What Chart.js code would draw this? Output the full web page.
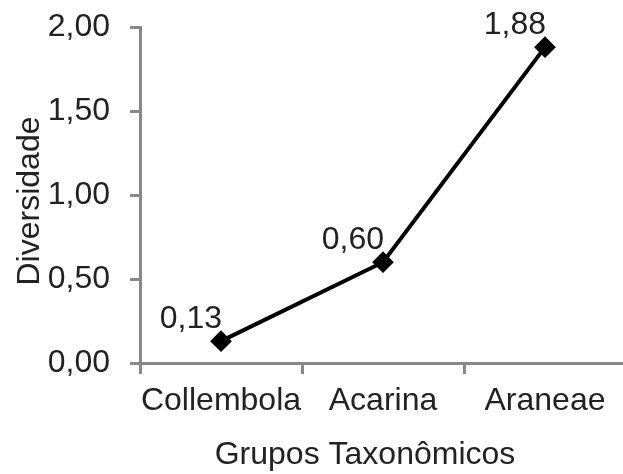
<!DOCTYPE html>
<html>
<head>
<meta charset="utf-8">
<script src="https://cdn.jsdelivr.net/npm/chart.js@4/dist/chart.umd.min.js"></script>
<style>
  html, body { margin: 0; padding: 0; background: #fff; overflow: hidden; }
  #wrap { width: 623px; height: 474px; overflow: hidden; }
</style>
</head>
<body>
<div id="wrap"><canvas id="divChart" width="638" height="474"></canvas></div>
<script>
const grupos = ['Collembola', 'Acarina', 'Araneae'];
const diversidade = [0.13, 0.60, 1.88];
const yTitle = 'Diversidade';
const xTitle = 'Grupos Taxonômicos';

const FONT = '"Liberation Sans", Arial, sans-serif';
const FS = 32;
const fmt = v => v.toFixed(2).replace('.', ',');

// value labels above-left of each point + axis titles
const labelsPlugin = {
  id: 'labels',
  afterDatasetsDraw(chart) {
    const ctx = chart.ctx;
    const meta = chart.getDatasetMeta(0);
    ctx.save();
    ctx.font = FS + 'px ' + FONT;
    ctx.fillStyle = '#222';
    ctx.textAlign = 'right';
    ctx.textBaseline = 'alphabetic';
    meta.data.forEach((pt, i) => {
      ctx.fillText(fmt(diversidade[i]), pt.x + 1, pt.y - 13);
    });
    // axis titles
    const a = chart.chartArea;
    ctx.textAlign = 'center';
    ctx.fillText(xTitle, a.left + (a.right - a.left) / 2 - 18, 464);
    ctx.translate(39, (a.top + a.bottom) / 2 + 6);
    ctx.rotate(-Math.PI / 2);
    ctx.fillText(yTitle, 0, 0);
    ctx.restore();
  }
};

function noPad(s) {
  s.paddingTop = 0; s.paddingBottom = 0; s.paddingLeft = 0; s.paddingRight = 0;
}

new Chart(document.getElementById('divChart').getContext('2d'), {
  type: 'line',
  data: {
    labels: grupos,
    datasets: [{
      data: diversidade,
      borderColor: '#000',
      borderWidth: 4,
      pointStyle: 'rectRot',
      pointRadius: 8,
      pointBackgroundColor: '#000',
      pointBorderColor: '#000',
      tension: 0
    }]
  },
  options: {
    responsive: false,
    animation: false,
    layout: { padding: { top: 27, right: 0, left: 0, bottom: 0 } },
    plugins: { legend: { display: false }, tooltip: { enabled: false } },
    scales: {
      x: {
        offset: true,
        grid: { offset: true, drawOnChartArea: false, color: '#888', lineWidth: 3, tickLength: 11 },
        border: { color: '#888', width: 3 },
        ticks: { color: '#222', font: { family: FONT, size: FS }, padding: 8, maxRotation: 0, autoSkip: false },
        afterFit(s) { s.height = 111; noPad(s); }
      },
      y: {
        min: 0, max: 2,
        grid: { drawOnChartArea: false, color: '#888', lineWidth: 3, tickLength: 10 },
        border: { color: '#888', width: 3 },
        ticks: { stepSize: 0.5, color: '#222', font: { family: FONT, size: FS }, padding: 20,
                 callback: v => fmt(v) },
        afterFit(s) { s.width = 140; noPad(s); }
      }
    }
  },
  plugins: [labelsPlugin]
});
</script>
</body>
</html>
